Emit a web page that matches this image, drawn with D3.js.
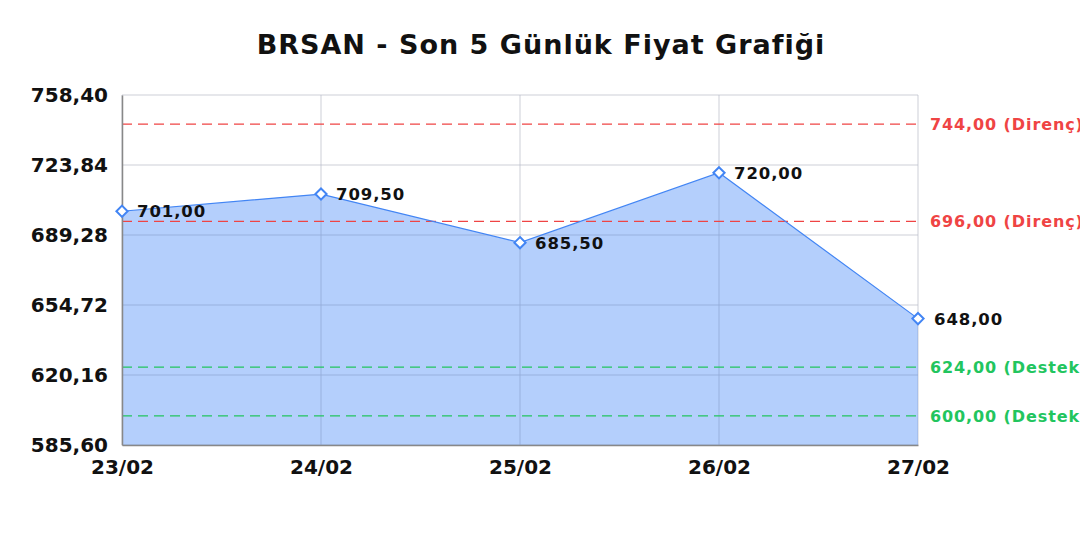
<!DOCTYPE html>
<html>
<head>
<meta charset="utf-8">
<script src="https://cdn.jsdelivr.net/npm/d3@7/dist/d3.min.js"></script>
<style>
  html, body { margin: 0; padding: 0; background: #fff; }
  svg { display: block; font-family: "DejaVu Sans", sans-serif; }
  svg text { font-family: "DejaVu Sans", sans-serif; }
</style>
</head>
<body>
<svg id="chart" width="1080" height="540"></svg>
<script>
const title = "BRSAN - Son 5 Günlük Fiyat Grafiği";
const dates = ["23/02", "24/02", "25/02", "26/02", "27/02"];
const prices = [701.00, 709.50, 685.50, 720.00, 648.00];
const yTicks = [585.60, 620.16, 654.72, 689.28, 723.84, 758.40];
const resistance = [744.00, 696.00];
const support = [624.00, 600.00];

const fmt = v => v.toFixed(2).replace(".", ",");
const svg = d3.select("#chart");
const m = { left: 122, right: 918, top: 95, bottom: 445 };
const FF = '"DejaVu Sans", sans-serif';

const x = d3.scalePoint().domain(dates).range([m.left, m.right]);
const y = d3.scaleLinear().domain([yTicks[0], yTicks[yTicks.length - 1]]).range([m.bottom, m.top]);

// title
svg.append("text").attr("x", 541).attr("y", 54).attr("text-anchor", "middle")
  .style("font-family", FF).style("font-size", "27px").style("font-weight", "bold").style("letter-spacing", "1px")
  .attr("fill", "#111").text(title);

// grid
const g = svg.append("g");
g.selectAll(".hg").data(yTicks).join("line")
  .attr("x1", m.left).attr("x2", m.right).attr("y1", d => y(d)).attr("y2", d => y(d))
  .attr("stroke", "#e3e3e3").attr("stroke-width", 1);
g.selectAll(".vg").data(dates).join("line")
  .attr("x1", d => x(d)).attr("x2", d => x(d)).attr("y1", m.top).attr("y2", m.bottom)
  .attr("stroke", "#e3e3e3").attr("stroke-width", 1);

const pts = dates.map((d, i) => ({ d, v: prices[i] }));

// area
const area = d3.area().x(p => x(p.d)).y0(y(yTicks[0])).y1(p => y(p.v));
svg.append("path").datum(pts).attr("d", area).attr("fill", "rgba(59,130,246,0.38)");

// grid over area (subtle)
const g2 = svg.append("g");
g2.selectAll("line.h").data(yTicks).join("line")
  .attr("x1", m.left).attr("x2", m.right).attr("y1", d => y(d)).attr("y2", d => y(d))
  .attr("stroke", "rgba(120,140,180,0.18)");
g2.selectAll("line.v").data(dates).join("line")
  .attr("x1", d => x(d)).attr("x2", d => x(d)).attr("y1", m.top).attr("y2", m.bottom)
  .attr("stroke", "rgba(120,140,180,0.18)");

// reference lines
const refs = resistance.map(v => ({ v, label: fmt(v) + " (Direnç)", c: "#ef4444" }))
  .concat(support.map(v => ({ v, label: fmt(v) + " (Destek)", c: "#22c55e" })));
svg.selectAll("line.ref").data(refs).join("line")
  .attr("x1", m.left).attr("x2", m.right).attr("y1", d => y(d.v)).attr("y2", d => y(d.v))
  .attr("stroke", d => d.c).attr("stroke-width", 1.3).attr("stroke-dasharray", "10,6");
svg.selectAll("text.ref").data(refs).join("text")
  .attr("x", 930).attr("y", d => y(d.v) + 6)
  .style("font-family", FF).style("font-size", "16px").style("font-weight", "bold").style("letter-spacing", "0.9px")
  .attr("fill", d => d.c).text(d => d.label);

// line
const line = d3.line().x(p => x(p.d)).y(p => y(p.v));
svg.append("path").datum(pts).attr("d", line).attr("fill", "none")
  .attr("stroke", "#4285f4").attr("stroke-width", 1.2);

// axes
const yAxis = d3.axisLeft(y).tickValues(yTicks).tickFormat(fmt).tickSize(0).tickPadding(14);
const ya = svg.append("g").attr("transform", `translate(${m.left},0)`).call(yAxis)
  .attr("font-family", FF);
ya.select(".domain").attr("stroke", "#888").attr("stroke-width", 1.5);
ya.selectAll("text").style("font-family", FF).style("font-size", "20px").style("font-weight", "bold").attr("fill", "#111");

const xAxis = d3.axisBottom(x).tickSize(0).tickPadding(15);
const xa = svg.append("g").attr("transform", `translate(0,${m.bottom})`).call(xAxis)
  .attr("font-family", FF);
xa.select(".domain").attr("stroke", "#888").attr("stroke-width", 1.5);
xa.selectAll("text").style("font-family", FF).style("font-size", "20px").style("font-weight", "bold").attr("fill", "#111");

// markers
const diamond = d3.symbol().type(d3.symbolDiamond2).size(80);
svg.selectAll("path.mk").data(pts).join("path")
  .attr("d", diamond).attr("transform", p => `translate(${x(p.d)},${y(p.v)})`)
  .attr("fill", "#fff").attr("stroke", "#4285f4").attr("stroke-width", 2);

// value labels
svg.selectAll("text.val").data(pts).join("text")
  .attr("x", p => x(p.d) + (p.d === dates[dates.length - 1] ? 16 : 15)).attr("y", p => y(p.v) + 6)
  .style("font-family", FF).style("font-size", "16.5px").style("font-weight", "bold").style("letter-spacing", "0.9px")
  .attr("fill", "#111").text(p => fmt(p.v));
</script>
</body>
</html>
